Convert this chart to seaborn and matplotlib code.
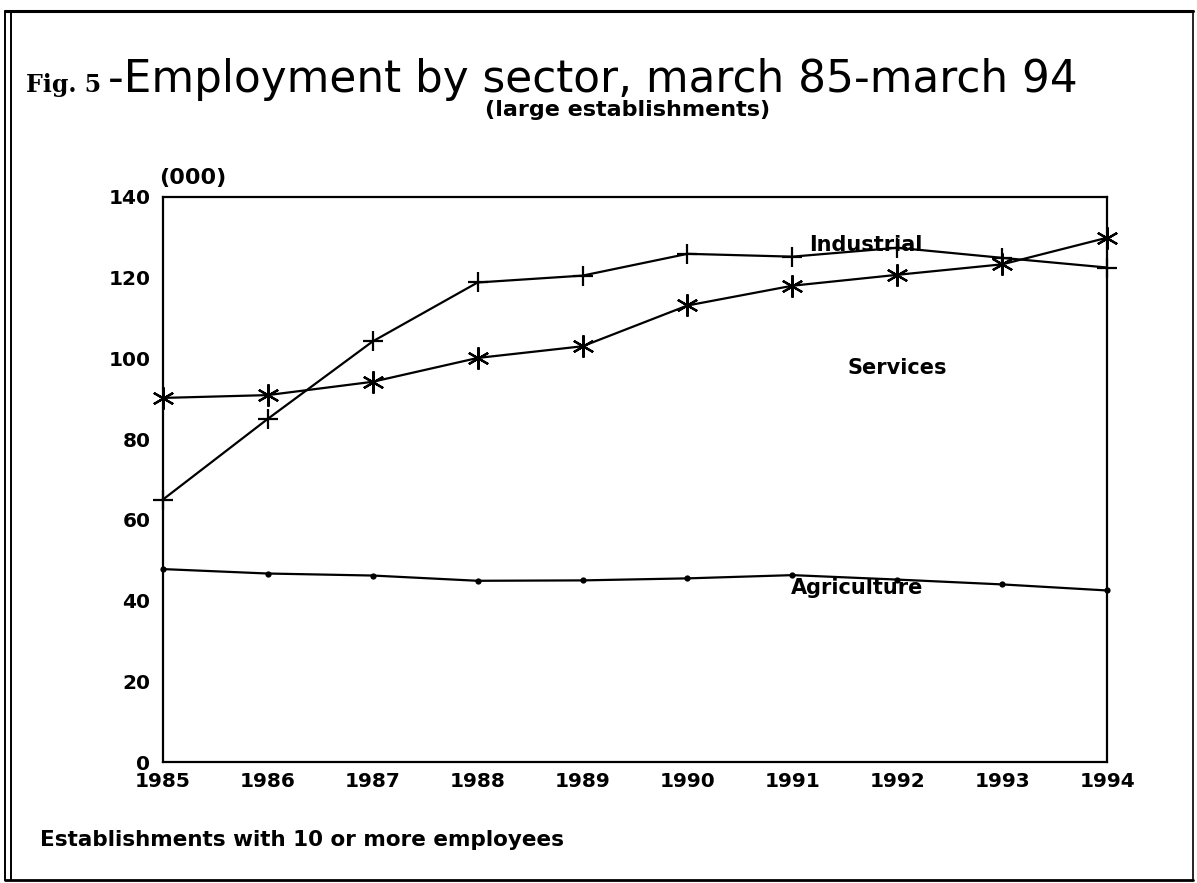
import matplotlib
matplotlib.use("Agg")
import matplotlib.pyplot as plt
from matplotlib.lines import Line2D
import seaborn as sns
import pandas as pd

years = [1985, 1986, 1987, 1988, 1989, 1990, 1991, 1992, 1993, 1994]
industrial = [65.0, 85.0, 104.2, 118.8, 120.5, 125.9, 125.2, 127.4, 124.9, 122.5]
services = [90.2, 90.9, 94.2, 100.1, 103.0, 113.1, 118.0, 120.7, 123.3, 129.9]
agriculture = [47.8, 46.7, 46.2, 44.9, 45.0, 45.5, 46.3, 45.2, 44.0, 42.5]
y_ticks = [0, 20, 40, 60, 80, 100, 120, 140]

df = pd.DataFrame({"year": years * 3,
                   "value": industrial + services + agriculture,
                   "sector": ["Industrial"] * 10 + ["Services"] * 10 + ["Agriculture"] * 10})

sns.set_theme(style="white")
plt.rcParams["font.family"] = ["DejaVu Sans"]
plt.rcParams["text.color"] = "black"

fig = plt.figure(figsize=(11.97, 8.83), dpi=100)
ax = fig.add_axes([0.136, 0.137, 0.789, 0.640])

styles = {
    "Industrial": dict(marker="+", markersize=15, markeredgewidth=1.6),
    "Services": dict(marker=(6, 2, 0), markersize=16, markeredgewidth=1.6),
    "Agriculture": dict(marker="o", markersize=4.5, markeredgewidth=0),
}
for name, kw in styles.items():
    sub = df[df["sector"] == name]
    sns.lineplot(data=sub, x="year", y="value", ax=ax, color="black",
                 markeredgecolor="black", markerfacecolor="black",
                 linewidth=1.6, clip_on=False, legend=False, **kw)

ax.set_xlim(1985, 1994)
ax.set_ylim(0, 140)
ax.set_xticks(years)
ax.set_yticks(y_ticks)
ax.set_xlabel("")
ax.set_ylabel("")
for s in ax.spines.values():
    s.set_visible(True)
    s.set_color("black")
    s.set_linewidth(1.6)
ax.tick_params(axis="both", direction="in", length=8, width=1.3, colors="black",
               labelsize=14.5)
ax.tick_params(axis="y", pad=9)
ax.tick_params(axis="x", pad=7)
for lab in ax.get_xticklabels() + ax.get_yticklabels():
    lab.set_fontweight("bold")

ax.text(1991.70, 128.0, "Industrial", ha="center", va="center",
        fontsize=15, fontweight="bold")
ax.text(1992.0, 97.5, "Services", ha="center", va="center",
        fontsize=15, fontweight="bold")
ax.text(1991.62, 43.0, "Agriculture", ha="center", va="center",
        fontsize=15, fontweight="bold")

fig.text(159 / 1197, 1 - 178 / 883, "(000)", ha="left", va="center",
         fontsize=16, fontweight="bold")

fig.text(26 / 1197, 1 - 92 / 883, "Fig. 5", ha="left", va="baseline",
         fontsize=17, fontweight="bold", family="DejaVu Serif")
fig.text(108 / 1197, 1 - 92 / 883, "-Employment by sector, march 85-march 94",
         ha="left", va="baseline", fontsize=31.5)
fig.text(628 / 1197, 1 - 116 / 883, "(large establishments)", ha="center",
         va="baseline", fontsize=16, fontweight="bold")

fig.text(40 / 1197, 1 - 840 / 883, "Establishments with 10 or more employees",
         ha="left", va="center", fontsize=15.5, fontweight="bold")

# scanned page frame
for xx in (0.004, 0.009):
    fig.add_artist(Line2D([xx, xx], [0.003, 0.987], color="black", lw=1.4,
                          transform=fig.transFigure))
fig.add_artist(Line2D([0.004, 0.997], [0.987, 0.987], color="black", lw=2.2,
                      transform=fig.transFigure))
fig.add_artist(Line2D([0.997, 0.997], [0.003, 0.987], color="black", lw=1.2,
                      transform=fig.transFigure))
fig.add_artist(Line2D([0.004, 0.997], [0.003, 0.003], color="black", lw=2.0,
                      transform=fig.transFigure))

fig.savefig("out.png", dpi=100, facecolor="white")
